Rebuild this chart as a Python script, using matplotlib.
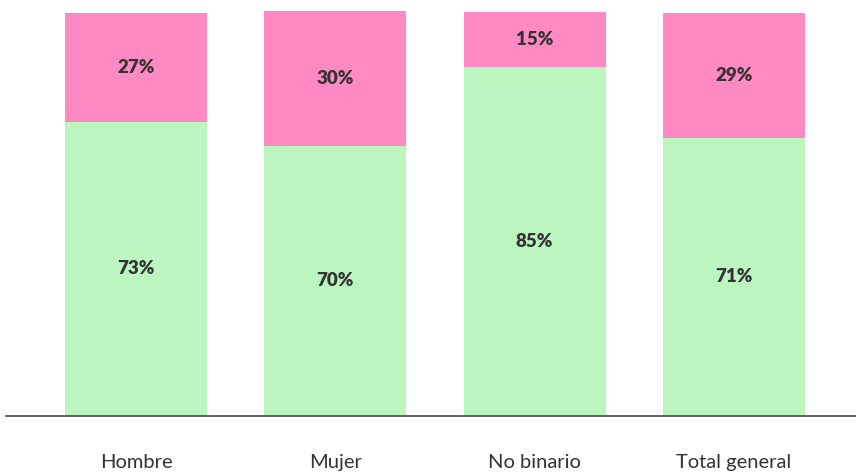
import numpy as np
import matplotlib
matplotlib.use("Agg")
import matplotlib.pyplot as plt

# categorias y valores (alto de cada tramo, en %)
categorias = ["Hombre", "Mujer", "No binario", "Total general"]
verde = [73.0, 67.0, 86.7, 69.0]
rosa = [27.1, 33.6, 13.7, 31.1]
etiquetas_verde = ["73%", "70%", "85%", "71%"]
etiquetas_rosa = ["27%", "30%", "15%", "29%"]

COLOR_VERDE = "#BCF5C0"
COLOR_ROSA = "#FF89C3"
COLOR_TEXTO = "#333333"

fig = plt.figure(figsize=(8.56, 4.74), dpi=100)
ax = fig.add_axes([0.007, 0.1234, 0.993, 0.8766])

x = np.arange(len(categorias))
ancho = 0.712
ax.bar(x, verde, width=ancho, color=COLOR_VERDE, zorder=2)
ax.bar(x, rosa, width=ancho, bottom=verde, color=COLOR_ROSA, zorder=2)

for i in range(len(categorias)):
    ax.text(x[i], verde[i] / 2, etiquetas_verde[i], ha="center", va="center",
            fontsize=13.5, fontweight="heavy", color=COLOR_TEXTO, family=["Lato", "DejaVu Sans"])
    ax.text(x[i], verde[i] + rosa[i] / 2, etiquetas_rosa[i], ha="center", va="center",
            fontsize=13.5, fontweight="heavy", color=COLOR_TEXTO, family=["Lato", "DejaVu Sans"])

ax.set_xlim(-0.652, 3.612)
ax.set_ylim(0, 103.4)
ax.set_xticks(x)
ax.set_xticklabels(categorias, fontsize=14.5, color=COLOR_TEXTO,
                   family=["Lato", "DejaVu Sans"])
ax.tick_params(axis="x", length=0, pad=28)
ax.set_yticks([])
for lado in ["top", "right", "left"]:
    ax.spines[lado].set_visible(False)
ax.spines["bottom"].set_color("#555555")
ax.spines["bottom"].set_linewidth(1.3)

fig.savefig("out.png", dpi=100)
